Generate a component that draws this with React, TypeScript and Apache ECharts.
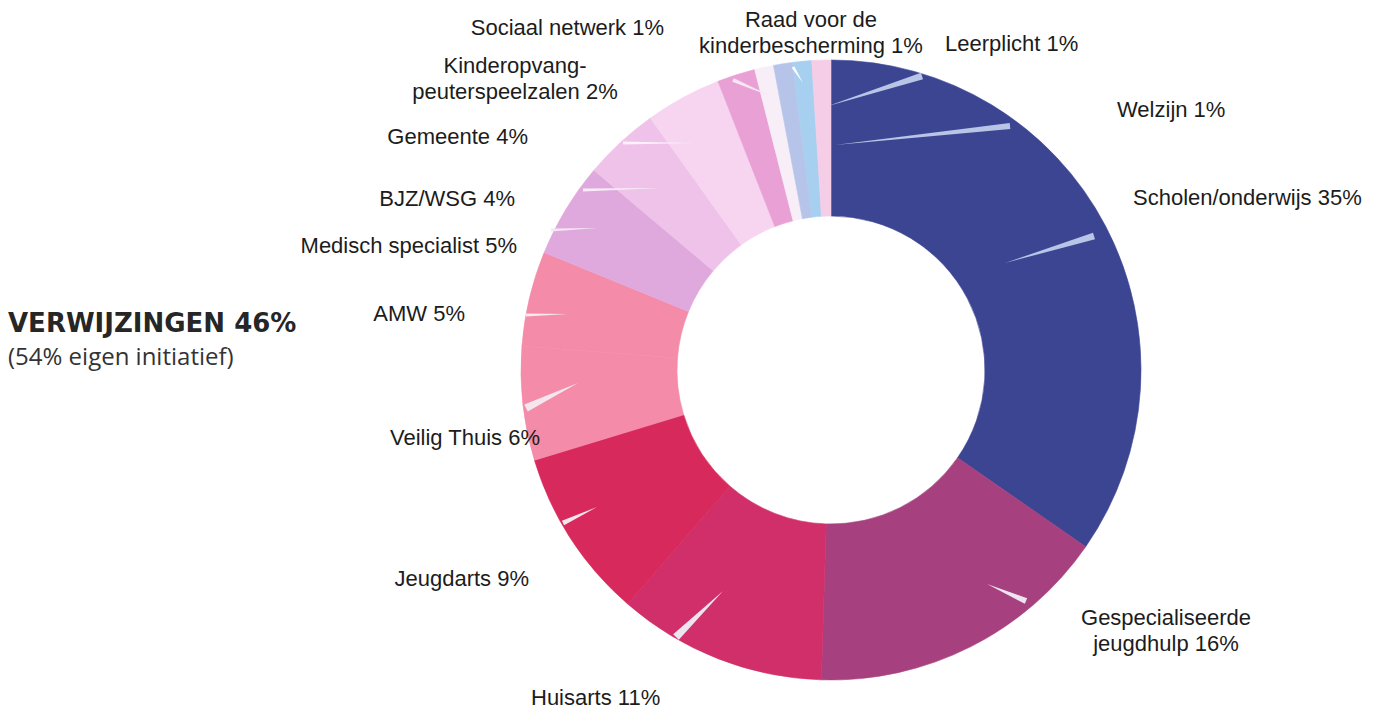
import React, { useEffect, useRef } from "react";
import * as echarts from "echarts";

const categories = [
  "Scholen/onderwijs",
  "Gespecialiseerde\njeugdhulp",
  "Huisarts",
  "Jeugdarts",
  "Veilig Thuis",
  "AMW",
  "Medisch specialist",
  "BJZ/WSG",
  "Gemeente",
  "Kinderopvang-\npeuterspeelzalen",
  "Sociaal netwerk",
  "Raad voor de\nkinderbescherming",
  "Welzijn",
  "Leerplicht",
];
const values = [35, 16, 11, 9, 6, 5, 5, 4, 4, 2, 1, 1, 1, 1];
const colors = [
  "#3c4592", "#a6407f", "#d02f6a", "#d7295c", "#f48ba8", "#f48ba8", "#e0a9de",
  "#efc2ea", "#f7d5f1", "#e9a0d5", "#f7eef8", "#b7c4ea", "#a7cff0", "#f5cde6",
];
const titleText = "VERWIJZINGEN 46%";
const subtitleText = "(54% eigen initiatief)";

// label layout (x, y, align)
const labelAnchors: [number, number, string][] = [
  [1133, 197, "left"],
  [1166, 630, "center"],
  [531, 697, "left"],
  [529, 578, "right"],
  [540, 437, "right"],
  [465, 313, "right"],
  [517, 245, "right"],
  [515, 198, "right"],
  [528, 136, "right"],
  [515, 78, "center"],
  [664, 27, "right"],
  [811, 32, "center"],
  [1117, 109, "left"],
  [945, 43, "left"],
];
// decorative leader wedges: [outerX, outerY, tipX, tipY, width, color]
const leaderWedges: [number, number, number, number, number, string][] = [
  [1094, 236, 1005, 263, 7, "#b9c5e6"],
  [1026, 601, 987, 584, 6, "#eee4f0"],
  [676, 637, 723, 591, 8, "#eee4f0"],
  [563, 523, 597, 507, 5, "#f3e6ee"],
  [526, 408, 578, 383, 8, "#f3e6ee"],
  [526, 315, 568, 314, 3, "#f6e9f0"],
  [551, 230, 597, 228, 3, "#f4e6f3"],
  [583, 190, 660, 188, 3, "#f8ecf7"],
  [623, 143, 693, 143, 3, "#fbf1fa"],
  [733, 80, 773, 97, 4, "#f6e6f3"],
  [793, 67, 803, 83, 3, "#ffffff"],
  [1010, 126, 835, 145, 6, "#b9c5e6"],
  [922, 76, 828, 106, 7, "#b9c5e6"],
];

function wedgePoints(w: [number, number, number, number, number, string]) {
  const [ax, ay, bx, by, width] = w;
  const dx = bx - ax;
  const dy = by - ay;
  const len = Math.sqrt(dx * dx + dy * dy) || 1;
  const nx = (-dy / len) * (width / 2);
  const ny = (dx / len) * (width / 2);
  return [
    [ax + nx, ay + ny],
    [ax - nx, ay - ny],
    [bx, by],
  ];
}

export default function App() {
  const ref = useRef<HTMLDivElement>(null);
  useEffect(() => {
    if (!ref.current) return;
    const chart = echarts.init(ref.current, undefined, { renderer: "svg" });
    chart.setOption({
      animation: false,
      backgroundColor: "#ffffff",
      graphic: [
        {
          type: "text",
          left: 8,
          top: 310,
          z: 100,
          style: {
            text: titleText,
            fontFamily: "DejaVu Sans",
            fontWeight: "bold",
            fontSize: 26,
            fill: "#262626",
          },
        },
        {
          type: "text",
          left: 8,
          top: 343,
          z: 100,
          style: {
            text: subtitleText,
            fontFamily: "Open Sans",
            fontSize: 24,
            fill: "#333333",
          },
        },
        ...leaderWedges.map((w) => ({
          type: "polygon",
          z: 100,
          silent: true,
          shape: { points: wedgePoints(w) },
          style: { fill: w[5] },
        })),
      ],
      series: [
        {
          type: "pie",
          center: [831, 370],
          radius: [154, 310],
          startAngle: 90,
          clockwise: true,
          avoidLabelOverlap: false,
          label: {
            show: true,
            position: "outside",
            formatter: "{b} {c}%",
            fontFamily: "Liberation Sans, Arial, sans-serif",
            fontSize: 22,
            lineHeight: 26,
            color: "#1c1c1c",
          },
          labelLine: { show: false },
          labelLayout: (params: any) => {
            const a = labelAnchors[params.dataIndex];
            return { x: a[0], y: a[1], align: a[2], verticalAlign: "middle" };
          },
          emphasis: { disabled: true },
          data: categories.map((name, i) => ({
            name,
            value: values[i],
            itemStyle: { color: colors[i], borderColor: colors[i], borderWidth: 0.6 },
          })),
        },
      ],
    });
    return () => chart.dispose();
  }, []);
  return (
    <div
      ref={ref}
      style={{ position: "fixed", left: 0, top: 0, width: 1384, height: 715 }}
    />
  );
}
